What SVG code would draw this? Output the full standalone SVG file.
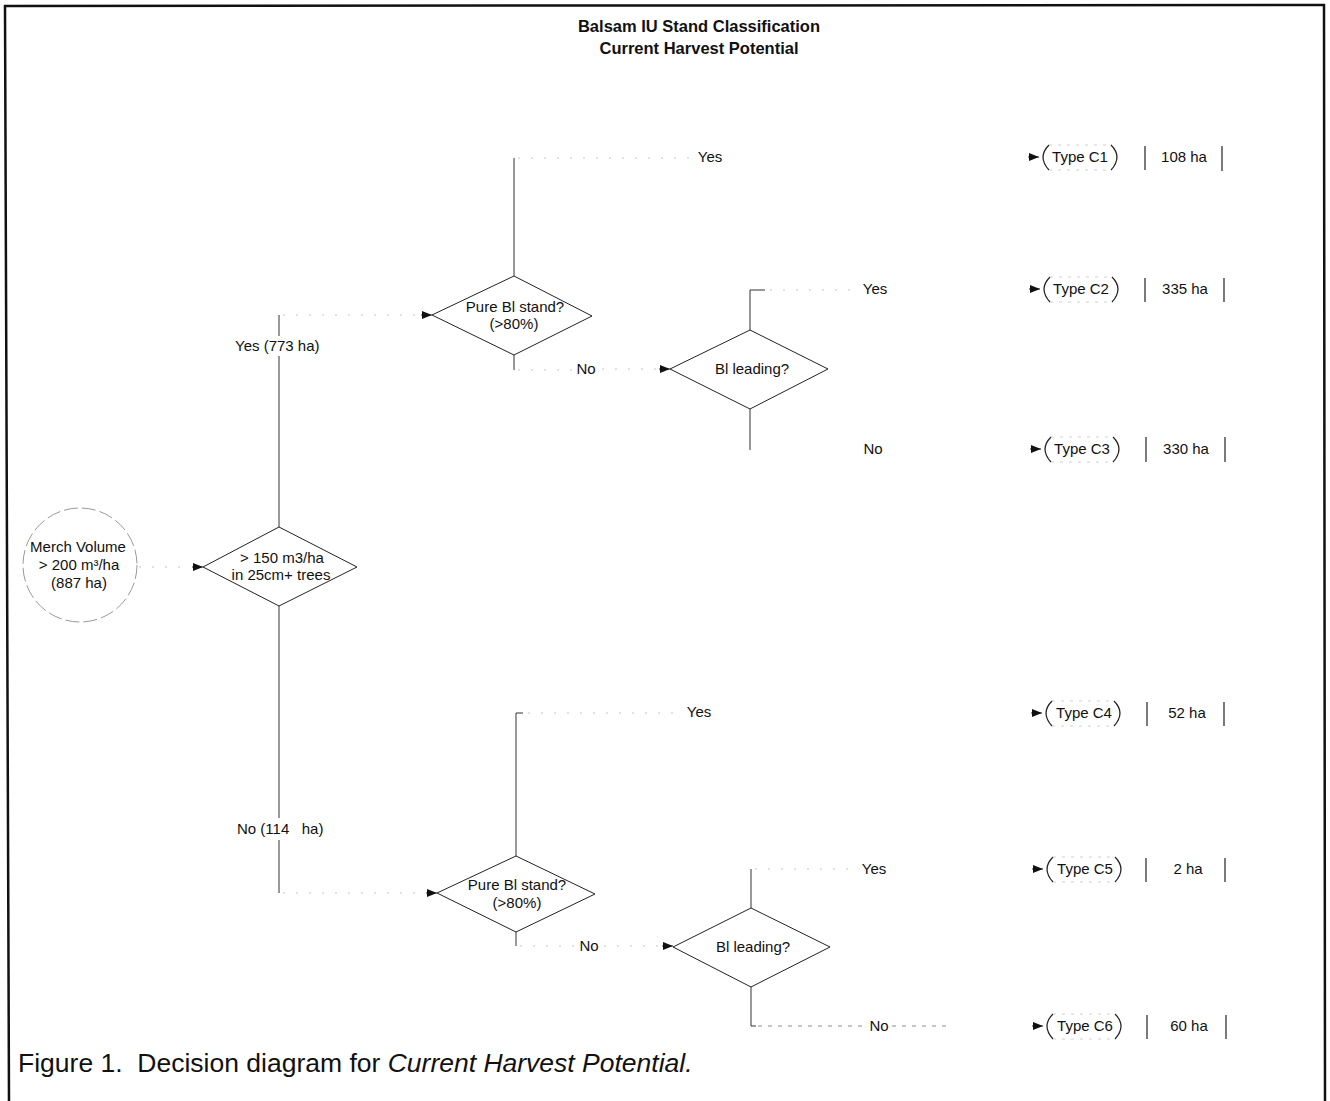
<svg xmlns="http://www.w3.org/2000/svg" width="1330" height="1101" viewBox="0 0 1330 1101">
<style>
text{font-family:"Liberation Sans",Arial,sans-serif;fill:#111;white-space:pre;}
.t{font-size:15px;text-anchor:middle;}
.l{font-size:15px;}
.title{font-size:16.5px;font-weight:bold;text-anchor:middle;}
.cap{font-size:26.5px;}
.ln{stroke:#333;stroke-width:1;fill:none;}
.faint{stroke:#c4c4c4;stroke-width:1;fill:none;stroke-dasharray:2 11;}
.dm{stroke:#222;stroke-width:1;fill:#fff;}
.arc{stroke:#222;stroke-width:1.2;fill:none;}
.arcf{stroke:#c4c4c4;stroke-width:0.8;fill:none;stroke-dasharray:3 6;}
.bar{stroke:#222;stroke-width:1.2;}
</style>
<defs>
<marker id="ah" viewBox="0 0 10 10" refX="10" refY="5" markerWidth="10" markerHeight="10" markerUnits="userSpaceOnUse" orient="auto">
<path d="M0,1 L10,5 L0,9 Z" fill="#111"/>
</marker>
</defs>
<rect width="1330" height="1101" fill="#fff"/>
<g id="frame">
<path d="M9,1101 L5,6 L1324,5 L1325,1101" stroke="#111" stroke-width="2.5" fill="none"/>
</g>
<g id="title">
<text class="title" x="699" y="32">Balsam IU Stand Classification</text>
<text class="title" x="699" y="54">Current Harvest Potential</text>
</g>
<g id="connectors">
<line class="faint" x1="139" y1="567" x2="190" y2="567"/>
<path d="M192,567 L203,567" class="ln" marker-end="url(#ah)"/>
<line class="ln" x1="279" y1="527" x2="279" y2="356"/>
<line class="ln" x1="279" y1="336" x2="279" y2="315"/>
<line class="faint" x1="283" y1="315" x2="420" y2="315"/>
<path d="M421,315 L432,315" class="ln" marker-end="url(#ah)"/>
<line class="ln" x1="279" y1="606" x2="279" y2="818"/>
<line class="ln" x1="279" y1="840" x2="279" y2="893"/>
<line class="faint" x1="283" y1="893" x2="424" y2="893"/>
<path d="M426,893 L437,893" class="ln" marker-end="url(#ah)"/>
<line class="ln" x1="514" y1="276" x2="514" y2="158"/>
<line class="faint" x1="518" y1="158" x2="690" y2="158"/>
<line class="ln" x1="514" y1="355" x2="514" y2="370"/>
<line class="faint" x1="518" y1="370" x2="575" y2="370"/>
<line class="faint" x1="602" y1="369" x2="658" y2="369"/>
<path d="M659,369 L670,369" class="ln" marker-end="url(#ah)"/>
<line class="ln" x1="750" y1="330" x2="750" y2="290"/>
<line class="ln" x1="750" y1="290" x2="765" y2="290"/>
<line class="faint" x1="770" y1="290" x2="858" y2="290"/>
<line class="ln" x1="750" y1="409" x2="750" y2="450"/>
<line class="ln" x1="516" y1="856" x2="516" y2="713"/>
<line class="ln" x1="516" y1="713" x2="523" y2="713"/>
<line class="faint" x1="528" y1="713" x2="680" y2="713"/>
<line class="ln" x1="516" y1="932" x2="516" y2="946"/>
<line class="faint" x1="520" y1="946" x2="578" y2="946"/>
<line class="faint" x1="604" y1="946" x2="661" y2="946"/>
<path d="M662,946 L673,946" class="ln" marker-end="url(#ah)"/>
<line class="ln" x1="751" y1="908" x2="751" y2="869"/>
<line class="faint" x1="755" y1="869" x2="860" y2="869"/>
<line class="ln" x1="751" y1="987" x2="751" y2="1026"/>
<line class="ln" x1="751" y1="1026" x2="756" y2="1026"/>
<line x1="758" y1="1026" x2="866" y2="1026" stroke="#8a8a8a" stroke-width="1" stroke-dasharray="4 6"/>
<line x1="892" y1="1026" x2="950" y2="1026" stroke="#8a8a8a" stroke-width="1" stroke-dasharray="4 6"/>
<path d="M1028,157 L1039,157" class="ln" marker-end="url(#ah)"/>
<path d="M1029,289 L1040,289" class="ln" marker-end="url(#ah)"/>
<path d="M1030,449 L1041,449" class="ln" marker-end="url(#ah)"/>
<path d="M1031,713 L1042,713" class="ln" marker-end="url(#ah)"/>
<path d="M1032,869 L1043,869" class="ln" marker-end="url(#ah)"/>
<path d="M1032,1026 L1043,1026" class="ln" marker-end="url(#ah)"/>
</g>
<g id="labels">
<text class="l" x="235" y="351">Yes (773 ha)</text>
<text class="l" x="237" y="834">No (114   ha)</text>
<text class="t" x="710" y="162">Yes</text>
<text class="t" x="586" y="374">No</text>
<text class="t" x="875" y="294">Yes</text>
<text class="t" x="873" y="454">No</text>
<text class="t" x="699" y="717">Yes</text>
<text class="t" x="589" y="951">No</text>
<text class="t" x="874" y="874">Yes</text>
<text class="t" x="879" y="1031">No</text>
</g>
<g id="start">
<circle cx="80" cy="565" r="57" fill="#fff" stroke="#999" stroke-width="1" stroke-dasharray="14 4"/>
<text class="t" x="78" y="552">Merch Volume</text>
<text class="t" x="79" y="570">&gt; 200 m³/ha</text>
<text class="t" x="79" y="588">(887 ha)</text>
</g>
<g id="d1">
<polygon class="dm" points="203,567 279,527 357,567 279,606"/>
<text class="t" x="282" y="563">&gt; 150 m3/ha</text>
<text class="t" x="281" y="580">in 25cm+ trees</text>
</g>
<g id="d2">
<polygon class="dm" points="432,315 514,276 592,316 514,355"/>
<text class="t" x="515" y="312">Pure Bl stand?</text>
<text class="t" x="514" y="329">(&gt;80%)</text>
</g>
<g id="d3">
<polygon class="dm" points="670,369 750,330 828,369 750,409"/>
<text class="t" x="752" y="374">Bl leading?</text>
</g>
<g id="d4">
<polygon class="dm" points="437,893 516,856 595,894 516,932"/>
<text class="t" x="517" y="890">Pure Bl stand?</text>
<text class="t" x="517" y="908">(&gt;80%)</text>
</g>
<g id="d5">
<polygon class="dm" points="673,947 751,908 830,947 751,987"/>
<text class="t" x="753" y="952">Bl leading?</text>
</g>
<g id="c1">
<path class="arc" d="M1049,145 Q1037,157 1049,170 M1111,145 Q1123,157 1111,170"/>
<path class="arcf" d="M1049,145 L1111,145 M1049,170 L1111,170"/>
<text class="t" x="1080" y="162">Type C1</text>
<line class="bar" x1="1145" y1="146" x2="1145" y2="170"/>
<line class="bar" x1="1222" y1="146" x2="1222" y2="171"/>
<text class="t" x="1184" y="162">108 ha</text>
</g>
<g id="c2">
<path class="arc" d="M1050,277 Q1038,289 1050,302 M1112,277 Q1124,289 1112,302"/>
<path class="arcf" d="M1050,277 L1112,277 M1050,302 L1112,302"/>
<text class="t" x="1081" y="294">Type C2</text>
<line class="bar" x1="1145" y1="278" x2="1145" y2="302"/>
<line class="bar" x1="1224" y1="278" x2="1224" y2="302"/>
<text class="t" x="1185" y="294">335 ha</text>
</g>
<g id="c3">
<path class="arc" d="M1051,437 Q1039,449 1051,462 M1113,437 Q1125,449 1113,462"/>
<path class="arcf" d="M1051,437 L1113,437 M1051,462 L1113,462"/>
<text class="t" x="1082" y="454">Type C3</text>
<line class="bar" x1="1146" y1="437" x2="1146" y2="462"/>
<line class="bar" x1="1225" y1="437" x2="1225" y2="462"/>
<text class="t" x="1186" y="454">330 ha</text>
</g>
<g id="c4">
<path class="arc" d="M1052,701 Q1040,713 1052,726 M1114,701 Q1126,713 1114,726"/>
<path class="arcf" d="M1052,701 L1114,701 M1052,726 L1114,726"/>
<text class="t" x="1084" y="718">Type C4</text>
<line class="bar" x1="1147" y1="702" x2="1147" y2="726"/>
<line class="bar" x1="1224" y1="702" x2="1224" y2="726"/>
<text class="t" x="1187" y="718">52 ha</text>
</g>
<g id="c5">
<path class="arc" d="M1053,857 Q1041,869 1053,882 M1115,857 Q1127,869 1115,882"/>
<path class="arcf" d="M1053,857 L1115,857 M1053,882 L1115,882"/>
<text class="t" x="1085" y="874">Type C5</text>
<line class="bar" x1="1146" y1="858" x2="1146" y2="882"/>
<line class="bar" x1="1225" y1="858" x2="1225" y2="882"/>
<text class="t" x="1188" y="874">2 ha</text>
</g>
<g id="c6">
<path class="arc" d="M1053,1014 Q1041,1026 1053,1039 M1115,1014 Q1127,1026 1115,1039"/>
<path class="arcf" d="M1053,1014 L1115,1014 M1053,1039 L1115,1039"/>
<text class="t" x="1085" y="1031">Type C6</text>
<line class="bar" x1="1147" y1="1015" x2="1147" y2="1039"/>
<line class="bar" x1="1226" y1="1015" x2="1226" y2="1039"/>
<text class="t" x="1189" y="1031">60 ha</text>
</g>
<g id="caption">
<text class="cap" x="18" y="1072">Figure 1.  Decision diagram for <tspan font-style="italic">Current Harvest Potential.</tspan></text>
</g>
</svg>
